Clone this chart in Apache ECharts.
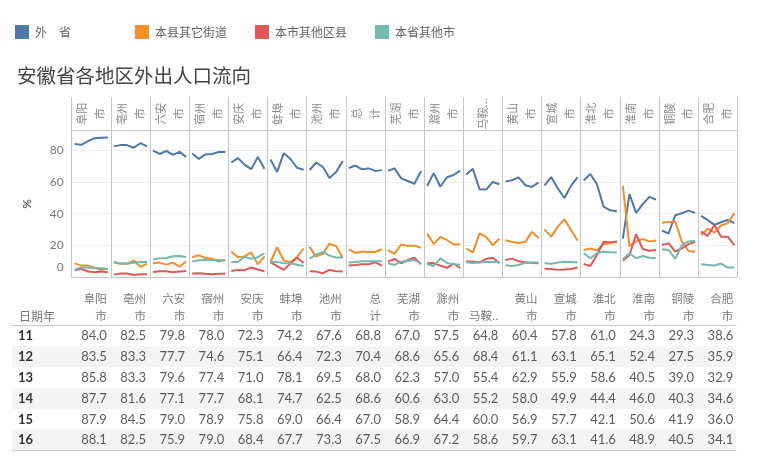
<!DOCTYPE html>
<html><head><meta charset="utf-8">
<script src="https://cdn.jsdelivr.net/npm/echarts@6/dist/echarts.min.js"></script>
<style>html,body{margin:0;padding:0;background:#fff}#c{width:764px;height:468px}</style>
</head><body><div id="c"></div>
<script>
const cities = ['阜阳市','亳州市','六安市','宿州市','安庆市','蚌埠市','池州市','总计','芜湖市','滁州市','马鞍山市','黄山市','宣城市','淮北市','淮南市','铜陵市','合肥市'];
const panelHeaders = ['阜阳\n市','亳州\n市','六安\n市','宿州\n市','安庆\n市','蚌埠\n市','池州\n市','总\n计','芜湖\n市','滁州\n市','马鞍...','黄山\n市','宣城\n市','淮北\n市','淮南\n市','铜陵\n市','合肥\n市'];
const tableHeaders = [['阜阳','市'],['亳州','市'],['六安','市'],['宿州','市'],['安庆','市'],['蚌埠','市'],['池州','市'],['总','计'],['芜湖','市'],['滁州','市'],['','马鞍..'],['黄山','市'],['宣城','市'],['淮北','市'],['淮南','市'],['铜陵','市'],['合肥','市']];
const yearHeader = '日期年';
const years = ['11','12','13','14','15','16'];
const seriesNames = ['外　省','本县其它街道','本市其他区县','本省其他市'];
const seriesColors = ['#4e79a7','#f28e2b','#e15759','#76b7b2'];
const yTicks = [0,20,40,60,80];

// 外省
const waisheng = [
 [84.0,83.5,85.8,87.7,87.9,88.1],
 [82.5,83.3,83.3,81.6,84.5,82.5],
 [79.8,77.7,79.6,77.1,79.0,75.9],
 [78.0,74.6,77.4,77.7,78.9,79.0],
 [72.3,75.1,71.0,68.1,75.8,68.4],
 [74.2,66.4,78.1,74.7,69.0,67.7],
 [67.6,72.3,69.5,62.5,66.4,73.3],
 [68.8,70.4,68.0,68.6,67.0,67.5],
 [67.0,68.6,62.3,60.6,58.9,66.9],
 [57.5,65.6,57.0,63.0,64.4,67.2],
 [64.8,68.4,55.4,55.2,60.0,58.6],
 [60.4,61.1,62.9,58.0,56.9,59.7],
 [57.8,63.1,55.9,49.9,57.7,63.1],
 [61.0,65.1,58.6,44.4,42.1,41.6],
 [24.3,52.4,40.5,46.0,50.6,48.9],
 [29.3,27.5,39.0,40.3,41.9,40.5],
 [38.6,35.9,32.9,34.6,36.0,34.1]
];
// 本县其它街道
const benxian = [
 [8.6,7.2,7.2,5.9,4.6,5.2],
 [9.1,8.3,8.3,10.4,6.4,8.5],
 [8.7,9.1,7.8,9.1,6.6,9.7],
 [12.5,13.7,12.0,11.6,9.7,10.8],
 [16.0,12.5,13.0,15.5,8.0,13.0],
 [9.3,18.8,10.4,9.3,12.5,18.0],
 [19.0,12.9,14.6,21.1,19.4,12.1],
 [17.5,15.2,16.1,15.8,15.8,17.5],
 [16.9,14.6,20.5,19.6,19.8,18.4],
 [27.4,20.9,25.3,23.4,20.5,20.7],
 [18.0,15.6,27.6,25.3,20.1,24.3],
 [23.2,22.2,21.5,22.2,28.5,24.7],
 [30.1,25.5,31.8,36.4,29.7,22.9],
 [17.0,18.0,16.8,20.8,21.3,22.6],
 [57.5,19.5,22.5,24.0,22.5,23.0],
 [34.3,34.7,34.9,22.3,16.4,16.0],
 [26.5,30.5,28.0,32.5,34.0,40.2]
];
// 本市其他区县
const benshi = [
 [4.2,5.2,3.5,3.0,3.4,3.0],
 [1.5,2.2,2.2,1.3,1.7,1.7],
 [3.2,3.6,3.6,3.0,3.4,3.8],
 [2.2,2.4,2.0,1.7,2.0,2.0],
 [3.8,4.5,4.3,6.0,4.7,3.6],
 [9.3,6.8,4.5,8.5,12.2,8.8],
 [3.6,3.4,2.4,4.5,3.6,3.4],
 [7.2,7.6,8.1,8.1,9.3,7.2],
 [9.7,11.4,8.7,10.7,12.2,8.0],
 [8.7,8.8,7.2,5.8,8.5,5.5],
 [9.9,9.7,9.3,11.4,12.1,8.7],
 [10.8,11.6,9.9,9.3,8.9,8.7],
 [5.2,5.0,4.5,4.7,5.0,6.0],
 [8.2,7.0,13.9,22.3,22.0,22.3],
 [10.3,13.9,27.0,17.7,16.6,17.1],
 [20.2,21.3,16.0,18.1,20.8,22.3],
 [28.6,26.0,32.8,25.5,25.5,20.2]
];
// 本省其他市
const bensheng = [
 [4.8,6.0,6.0,5.5,5.5,5.0],
 [9.5,8.5,8.5,9.0,9.5,9.5],
 [11.0,11.8,12.0,13.1,13.3,12.7],
 [9.7,10.6,10.8,10.8,10.8,10.4],
 [9.5,9.5,12.8,11.5,12.5,15.0],
 [9.5,9.5,8.7,8.7,7.8,7.0],
 [11.6,14.2,15.8,13.5,12.3,12.3],
 [9.1,9.5,9.9,9.9,9.9,9.9],
 [8.7,7.6,9.7,10.1,10.7,8.7],
 [8.2,7.0,11.8,8.9,8.1,7.8],
 [9.3,8.9,9.1,9.7,9.5,9.5],
 [7.4,7.0,7.6,8.9,9.1,9.1],
 [8.7,8.3,9.1,9.7,9.5,9.1],
 [15.0,11.8,15.0,16.0,15.6,15.4],
 [11.2,15.0,11.8,13.3,12.2,11.8],
 [17.5,17.1,11.5,20.2,22.5,22.9],
 [8.0,7.6,7.2,8.5,5.9,6.1]
];

const allSeries = [waisheng, benxian, benshi, bensheng];

// layout
const PL = 71.7, PR = 737.3, PW = (PR - PL) / cities.length;
const HT = 97, HB = 130.7, PB = 277;
const YMAX = 92.4;
const TL = 12, TR = 736, TT = 325.7, TB = 450.7;
const grey = '#c8c8c8';
const cjk = '"Noto Sans CJK SC", sans-serif';

const grid = [], xAxis = [], yAxis = [], series = [];

// 0: header
grid.push({left: PL, width: PR - PL, top: HT, height: HB - HT});
xAxis.push({gridIndex: 0, type: 'category', data: cities, boundaryGap: true,
  axisLine: {show: true, lineStyle: {color: grey}}, axisTick: {show: false},
  splitLine: {show: true, interval: 0, lineStyle: {color: grey}},
  axisLabel: {show: true, interval: 0, inside: true, rotate: 90, margin: (HB - HT) / 2,
    align: 'center', verticalAlign: 'middle', lineHeight: 18, fontSize: 11, color: '#8a8a8a',
    fontFamily: cjk, formatter: (v, i) => panelHeaders[i]}});
yAxis.push({gridIndex: 0, type: 'value', show: false});

// 1: plot frame
grid.push({left: PL, width: PR - PL, top: HB, height: PB - HB});
xAxis.push({gridIndex: 1, type: 'category', data: cities, boundaryGap: true,
  axisLine: {show: true, lineStyle: {color: grey}}, axisTick: {show: false}, axisLabel: {show: false},
  splitLine: {show: true, interval: 0, lineStyle: {color: grey}}});
yAxis.push({gridIndex: 1, type: 'value', min: 0, max: YMAX, interval: 20,
  axisLine: {show: true, lineStyle: {color: grey}}, axisTick: {show: false},
  splitLine: {show: true, lineStyle: {color: '#eeeeee'}},
  name: '%', nameLocation: 'middle', nameRotate: 90, nameGap: 39,
  nameTextStyle: {color: '#333', fontSize: 12, fontFamily: 'Lato, sans-serif'},
  axisLabel: {color: '#7a7a7a', fontSize: 12, margin: 8, fontFamily: 'Lato, sans-serif',
    formatter: v => (yTicks.indexOf(v) < 0 ? '' : (v === 0 ? '{z|0}' : String(v))),
    rich: {z: {color: '#7a7a7a', fontSize: 12, fontFamily: 'Lato, sans-serif', padding: [0, 0, 20, 0]}}}});

// 2..: panels
const inset = 3;
cities.forEach((c, i) => {
  const gi = grid.length;
  grid.push({left: PL + i * PW + inset, width: PW - 2 * inset, top: HB, height: PB - HB});
  xAxis.push({gridIndex: gi, type: 'category', data: years, boundaryGap: false, show: false});
  yAxis.push({gridIndex: gi, type: 'value', min: 0, max: YMAX, show: false});
  allSeries.forEach((arr, k) => {
    series.push({type: 'line', name: seriesNames[k], xAxisIndex: gi, yAxisIndex: gi,
      data: arr[i], symbol: 'none', showSymbol: false, silent: true,
      lineStyle: {width: 2, color: seriesColors[k]}, itemStyle: {color: seriesColors[k]}});
  });
});

// table grid
const tg = grid.length;
const xmin = (TL - PL) / PW, xmax = (TR - PL) / PW;
grid.push({left: TL, width: TR - TL, top: TT, height: TB - TT});
xAxis.push({gridIndex: tg, type: 'value', min: xmin, max: xmax, position: 'bottom',
  axisLine: {show: true, onZero: false, lineStyle: {color: grey}}, axisTick: {show: false},
  axisLabel: {show: false}, splitLine: {show: false}});
xAxis.push({gridIndex: tg, type: 'value', min: xmin, max: xmax, position: 'top',
  axisLine: {show: true, onZero: false, lineStyle: {color: grey}}, axisTick: {show: false},
  axisLabel: {show: false}, splitLine: {show: false}});
yAxis.push({gridIndex: tg, type: 'category', data: years, inverse: true,
  axisLine: {show: false}, axisTick: {show: false},
  splitArea: {show: true, interval: 0, areaStyle: {color: ['rgba(255,255,255,0)', '#f4f4f4']}},
  axisLabel: {inside: true, margin: 6, color: '#333', fontSize: 13, fontWeight: 'bold', fontFamily: 'Lato, sans-serif'}});

// table header grid
const thg = grid.length;
grid.push({left: PL, width: PR - PL, top: TT, height: TB - TT});
xAxis.push({gridIndex: thg, type: 'category', data: cities, position: 'top', boundaryGap: true,
  axisLine: {show: false}, axisTick: {show: false}, splitLine: {show: false},
  axisLabel: {show: true, interval: 0, margin: 2, lineHeight: 17,
    formatter: (v, i) => tableHeaders[i].map(s => '{a|' + s + '}').join('\n'),
    rich: {a: {width: PW - 8, align: 'right', fontSize: 11.5, color: '#7a7a7a', fontFamily: cjk, lineHeight: 17}}}});
yAxis.push({gridIndex: thg, type: 'value', show: false});

// table values (外省)
const tableData = [];
cities.forEach((c, i) => years.forEach((y, j) => tableData.push([i + 1 - 4 / PW, y, waisheng[i][j]])));
series.push({type: 'scatter', name: 'table', xAxisIndex: tg, yAxisIndex: tg, data: tableData,
  symbolSize: 0, silent: true, clip: false,
  label: {show: true, position: 'left', distance: 0, color: '#333', fontSize: 13, fontFamily: 'Lato, sans-serif',
    formatter: p => p.value[2].toFixed(1)}});

const legendStep = 120;
const option = {
  animation: false,
  backgroundColor: '#fff',
  color: seriesColors,
  title: [
    {text: '安徽省各地区外出人口流向', left: 12, top: 61,
      textStyle: {fontSize: 19.5, fontWeight: 'normal', color: '#444', fontFamily: cjk}},
    {text: yearHeader, left: 14, top: 305,
      textStyle: {fontSize: 12, fontWeight: 'normal', color: '#777', fontFamily: cjk}}
  ],
  legend: seriesNames.map((n, k) => ({data: [n], left: 15 + k * legendStep, top: 25, padding: 0,
    icon: 'rect', itemWidth: 14, itemHeight: 14, itemGap: 6,
    textStyle: {color: '#666', fontSize: 12, fontFamily: cjk, padding: [0, 0, 0, 1]}})),
  grid, xAxis, yAxis, series
};
const chart = echarts.init(document.getElementById('c'));
chart.setOption(option);
</script></body></html>
